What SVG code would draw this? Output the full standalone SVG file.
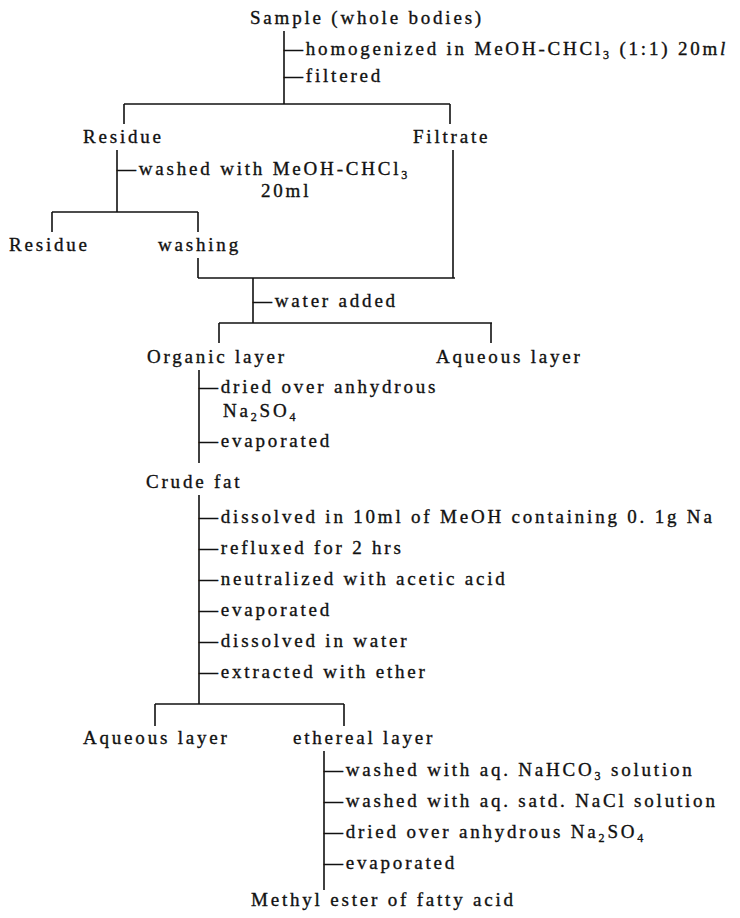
<svg xmlns="http://www.w3.org/2000/svg" width="740" height="918" viewBox="0 0 740 918">
<style>
text{font-family:"Liberation Serif","Times New Roman",serif;font-size:19px;letter-spacing:2.8px;fill:#111;stroke:#111;stroke-width:0.35px}
.sub{font-size:12px}
#connectors line{stroke:#111;stroke-width:1.6}
</style>
<rect width="740" height="918" fill="#fff"/>
<g id="connectors">
<line x1="284" y1="31" x2="284" y2="104"/>
<line x1="124" y1="104" x2="450" y2="104"/>
<line x1="124" y1="104" x2="124" y2="124"/>
<line x1="450" y1="104" x2="450" y2="124"/>
<line x1="117" y1="150" x2="117" y2="212"/>
<line x1="453" y1="150" x2="453" y2="278"/>
<line x1="52" y1="212" x2="198" y2="212"/>
<line x1="52" y1="212" x2="52" y2="232"/>
<line x1="198" y1="212" x2="198" y2="232"/>
<line x1="198" y1="258" x2="198" y2="278"/>
<line x1="198" y1="278" x2="455" y2="278"/>
<line x1="253" y1="278" x2="253" y2="323"/>
<line x1="219" y1="323" x2="492" y2="323"/>
<line x1="219" y1="323" x2="219" y2="343"/>
<line x1="491" y1="323" x2="491" y2="343"/>
<line x1="199" y1="370" x2="199" y2="463"/>
<line x1="199" y1="495" x2="199" y2="704"/>
<line x1="155" y1="704" x2="344" y2="704"/>
<line x1="155" y1="704" x2="155" y2="726"/>
<line x1="344" y1="704" x2="344" y2="726"/>
<line x1="324" y1="751" x2="324" y2="890"/>
</g>
<g id="sample"><text x="250" y="24">Sample (whole bodies)</text></g>
<g id="step-homogenize"><text x="284" y="55">—homogenized in MeOH-CHCl<tspan class="sub" dy="4">3</tspan><tspan dy="-4"> (1:1) 20m</tspan><tspan font-style="italic">l</tspan></text></g>
<g id="step-filter"><text x="284" y="82">—filtered</text></g>
<g id="residue1"><text x="83" y="143">Residue</text></g>
<g id="filtrate"><text x="413" y="143">Filtrate</text></g>
<g id="step-wash"><text x="117" y="175">—washed with MeOH-CHCl<tspan class="sub" dy="4">3</tspan></text><text x="261" y="197">20ml</text></g>
<g id="residue2"><text x="9" y="251">Residue</text></g>
<g id="washing"><text x="158" y="251">washing</text></g>
<g id="step-water"><text x="253" y="307">—water added</text></g>
<g id="organic"><text x="147" y="363">Organic layer</text></g>
<g id="aqueous1"><text x="436" y="363">Aqueous layer</text></g>
<g id="steps-organic">
<text x="199" y="393">—dried over anhydrous</text>
<text x="223" y="417">Na<tspan class="sub" dy="4">2</tspan><tspan dy="-4">SO</tspan><tspan class="sub" dy="4">4</tspan></text>
<text x="199" y="447">—evaporated</text>
</g>
<g id="crude-fat"><text x="146" y="488">Crude fat</text></g>
<g id="steps-crude">
<text x="199" y="523">—dissolved in 10ml of MeOH containing 0. 1g Na</text>
<text x="199" y="554">—refluxed for 2 hrs</text>
<text x="199" y="585">—neutralized with acetic acid</text>
<text x="199" y="616">—evaporated</text>
<text x="199" y="647">—dissolved in water</text>
<text x="199" y="678">—extracted with ether</text>
</g>
<g id="aqueous2"><text x="83" y="744">Aqueous layer</text></g>
<g id="ethereal"><text x="293" y="744">ethereal layer</text></g>
<g id="steps-ethereal">
<text x="324" y="776">—washed with aq. NaHCO<tspan class="sub" dy="4">3</tspan><tspan dy="-4"> solution</tspan></text>
<text x="324" y="807">—washed with aq. satd. NaCl solution</text>
<text x="324" y="838">—dried over anhydrous Na<tspan class="sub" dy="4">2</tspan><tspan dy="-4">SO</tspan><tspan class="sub" dy="4">4</tspan></text>
<text x="324" y="869">—evaporated</text>
</g>
<g id="methyl-ester"><text x="251" y="906">Methyl ester of fatty acid</text></g>
</svg>
